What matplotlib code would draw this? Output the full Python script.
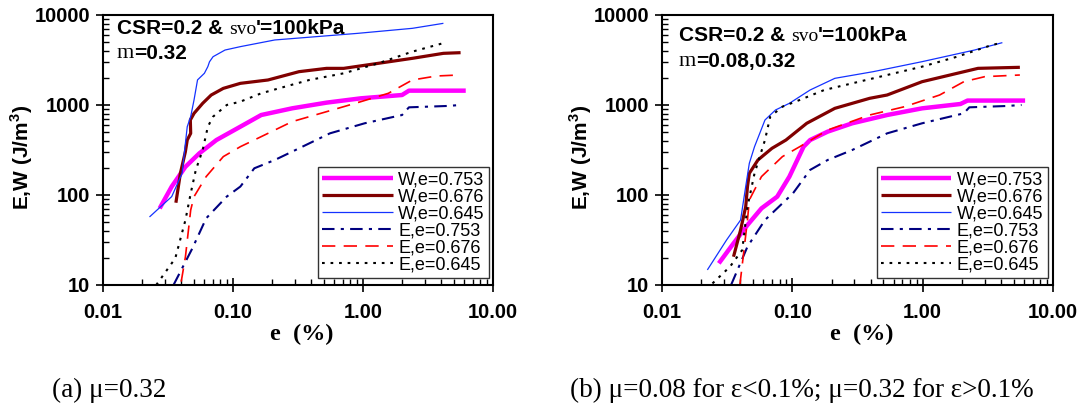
import matplotlib
matplotlib.use("Agg")
import matplotlib.pyplot as plt
from matplotlib.ticker import LogLocator, FixedLocator, FixedFormatter, NullFormatter

plt.rcParams['font.family'] = ['Liberation Sans', 'DejaVu Sans']
plt.rcParams['mathtext.fontset'] = 'custom'
plt.rcParams['mathtext.rm'] = 'Liberation Sans'
plt.rcParams['mathtext.bf'] = 'Liberation Sans:bold'

# --- панель (a): mu = 0.32 ---
a_w753_x = [0.0273, 0.0338, 0.0431, 0.0551, 0.0746, 0.114, 0.165, 0.285, 0.525, 0.964, 2.0, 2.26, 6.18]
a_w753_y = [71, 124, 206, 290, 408, 574, 774, 918, 1062, 1186, 1291, 1443, 1443]
a_w676_x = [0.0364, 0.0394, 0.0430, 0.0445, 0.0473, 0.0470, 0.0502, 0.0585, 0.068, 0.0843, 0.114, 0.186,
            0.322, 0.525, 0.711, 1.31, 2.4, 4.16, 5.64]
a_w676_y = [82, 174, 300, 408, 484, 681, 808, 1044, 1290, 1530, 1740, 1896, 2345, 2553, 2553, 2903, 3300,
            3750, 3814]
a_w645_x = [0.0228, 0.0338, 0.0406, 0.0445, 0.0473, 0.0502, 0.0534, 0.0603, 0.0641, 0.066, 0.0703, 0.0869,
            0.114, 0.21, 0.908, 2.4, 4.16]
a_w645_y = [57, 96, 174, 574, 742, 1140, 1900, 2250, 2670, 3020, 3440, 4080, 4450, 5280, 6250, 7110, 8080]
a_e753_x = [0.0349, 0.0487, 0.0622, 0.0896, 0.114, 0.146, 0.21, 0.303, 0.557, 1.03, 2.0, 2.26, 4.42, 5.64]
a_e753_y = [10, 25.5, 55, 96, 124, 198, 245, 316, 484, 626, 774, 942, 975, 1000]
a_e676_x = [0.040, 0.0431, 0.0473, 0.0502, 0.0622, 0.0843, 0.114, 0.165, 0.285, 0.525, 0.964, 1.57, 2.4,
            3.68, 5.47]
a_e676_y = [10.9, 20.6, 68, 96, 160, 267, 344, 445, 653, 843, 1089, 1349, 1896, 2100, 2154]
a_e645_x = [0.0257, 0.036, 0.0431, 0.0473, 0.0518, 0.0585, 0.0641, 0.0703, 0.0896, 0.114, 0.165, 0.252,
            0.387, 0.711, 1.31, 2.4, 4.29]
a_e645_y = [10, 19.8, 52.7, 104, 190, 316, 574, 742, 1000, 1089, 1349, 1600, 1897, 2249, 2903, 3915, 4930]

# --- панель (b): mu = 0.08 / 0.32 ---
b_w753_x = [0.0273, 0.0354, 0.0453, 0.058, 0.0766, 0.095, 0.122, 0.137, 0.187, 0.288, 0.534, 0.99, 1.95,
            2.21, 6.11]
b_w753_y = [17.4, 29, 46.4, 71, 95.8, 160, 344, 408, 506, 626, 774, 918, 1026, 1120, 1120]
b_w676_x = [0.0354, 0.0401, 0.0439, 0.0453, 0.0468, 0.0545, 0.0698, 0.0894, 0.129, 0.212, 0.392, 0.534,
            0.99, 1.84, 2.66, 5.57]
b_w676_y = [20.6, 40.8, 74, 124, 174, 245, 330, 408, 626, 918, 1186, 1291, 1815, 2249, 2554, 2622]
b_w645_x = [0.0223, 0.0313, 0.0401, 0.0439, 0.0468, 0.0513, 0.0617, 0.0743, 0.095, 0.137, 0.212, 0.417,
            0.99, 2.5, 4.09]
b_w645_y = [14.7, 31.6, 52.7, 124, 225, 344, 681, 880, 1044, 1468, 1978, 2345, 3030, 4080, 4930]
b_e753_x = [0.0339, 0.0453, 0.0617, 0.084, 0.101, 0.137, 0.187, 0.288, 0.534, 0.99, 2.07, 2.28, 4.42, 5.74]
b_e753_y = [10, 26.7, 52.7, 80.8, 104, 190, 245, 316, 484, 626, 808, 942, 975, 1000]
b_e676_x = [0.0396, 0.0426, 0.0453, 0.0468, 0.0513, 0.058, 0.084, 0.114, 0.187, 0.392, 0.728, 1.35, 2.07,
            3.0, 5.57]
b_e676_y = [10, 24.5, 52.7, 88, 114, 160, 267, 344, 527, 774, 958, 1291, 1815, 2065, 2154]
b_e645_x = [0.0244, 0.0333, 0.0413, 0.0453, 0.0513, 0.0617, 0.0677, 0.084, 0.114, 0.176, 0.288, 0.534,
            0.99, 1.84, 3.4, 4.09]
b_e645_y = [10.4, 16, 24.5, 74, 174, 408, 742, 958, 1137, 1468, 1740, 2154, 2666, 3443, 4642, 4930]

labels = ['W,e=0.753', 'W,e=0.676', 'W,e=0.645', 'E,e=0.753', 'E,e=0.676', 'E,e=0.645']
x_ticks = [0.01, 0.1, 1, 10]
x_tick_labels = ['0.01', '0.10', '1.00', '10.00']
y_ticks = [10, 100, 1000, 10000]
y_tick_labels = ['10', '100', '1000', '10000']

styles = [
    dict(color='#FF00FF', lw=3.2, ls='-'),
    dict(color='#800000', lw=2.3, ls='-'),
    dict(color='#1432FF', lw=0.9, ls='-'),
    dict(color='#000080', lw=1.5, ls=(0, (6, 3, 1.5, 3))),
    dict(color='#FF0000', lw=1.2, ls=(0, (8, 5))),
    dict(color='black', lw=1.5, ls=(0, (1.3, 2.8))),
]

fig = plt.figure(figsize=(10.85, 4.12), dpi=100)
ax_a = fig.add_axes([0.0949, 0.3083, 0.3594, 0.6553])
ax_b = fig.add_axes([0.6101, 0.3083, 0.3604, 0.6553])

panels = [
    (ax_a, [(a_w753_x, a_w753_y), (a_w676_x, a_w676_y), (a_w645_x, a_w645_y),
            (a_e753_x, a_e753_y), (a_e676_x, a_e676_y), (a_e645_x, a_e645_y)],
     'm', '=0.32', (0.036, 0.930), (0.036, 0.841), 0.99),
    (ax_b, [(b_w753_x, b_w753_y), (b_w676_x, b_w676_y), (b_w645_x, b_w645_y),
            (b_e753_x, b_e753_y), (b_e676_x, b_e676_y), (b_e645_x, b_e645_y)],
     'm', '=0.08,0.32', (0.043, 0.904), (0.043, 0.811), 0.987),
]

for ax, series, mchar, mtext, pos1, pos2, leg_x in panels:
    for (xs, ys), st, lab in zip(series, styles, labels):
        ax.plot(xs, ys, label=lab, solid_capstyle='butt', **st)
    ax.set_xscale('log')
    ax.set_yscale('log')
    ax.set_xlim(0.01, 10)
    ax.set_ylim(10, 10000)

    ax.xaxis.set_major_locator(FixedLocator(x_ticks))
    ax.xaxis.set_major_formatter(FixedFormatter(x_tick_labels))
    ax.yaxis.set_major_locator(FixedLocator(y_ticks))
    ax.yaxis.set_major_formatter(FixedFormatter(y_tick_labels))
    ax.xaxis.set_minor_locator(LogLocator(base=10, subs=range(2, 10)))
    ax.yaxis.set_minor_locator(LogLocator(base=10, subs=range(2, 10)))
    ax.xaxis.set_minor_formatter(NullFormatter())
    ax.yaxis.set_minor_formatter(NullFormatter())
    ax.tick_params(which='major', direction='inout', length=10, width=1.2)
    ax.tick_params(which='minor', direction='in', length=4, width=1.0)
    ax.tick_params(axis='x', which='major', pad=8)
    ax.tick_params(axis='y', which='major', pad=4)
    for lbl in ax.get_xticklabels() + ax.get_yticklabels():
        lbl.set_fontweight('bold')
        lbl.set_fontsize(14.5)
    for sp in ax.spines.values():
        sp.set_linewidth(1.5)

    ax.set_ylabel(r'E,W (J/m$^{\mathbf{3}}$)', fontsize=15, fontweight='bold')
    ax.yaxis.set_label_coords(-0.175, 0.474)
    ax.text(0.51, -0.185, 'e  (%)', transform=ax.transAxes, ha='center', va='center',
            fontsize=17.5, fontweight='bold', family=['Liberation Serif', 'DejaVu Serif'])

    # подпись CSR=0.2 & svo'=100kPa
    t1 = ax.text(pos1[0], pos1[1], 'CSR=0.2 & ', transform=ax.transAxes, fontsize=15,
                 fontweight='bold', va='baseline')
    t2 = ax.annotate('svo', xy=(1, 0), xycoords=t1, va='bottom', ha='left', fontsize=14,
                     family=['Liberation Serif', 'DejaVu Serif'])
    ax.annotate("'=100kPa", xy=(1, 0), xycoords=t2, va='bottom', ha='left', fontsize=15,
                fontweight='bold')
    t3 = ax.text(pos2[0], pos2[1], mchar, transform=ax.transAxes, fontsize=16,
                 family=['Liberation Serif', 'DejaVu Serif'], va='baseline')
    ax.annotate(mtext, xy=(1, 0), xycoords=t3, va='bottom', ha='left', fontsize=15,
                fontweight='bold')

    leg = ax.legend(loc='lower right', bbox_to_anchor=(leg_x, 0.026), fontsize=13,
                    handlelength=3.9, handletextpad=0.3, labelspacing=0.0, borderpad=0.25,
                    borderaxespad=0, fancybox=False, framealpha=1)
    leg.get_frame().set_edgecolor('#333333')
    leg.get_frame().set_linewidth(1.0)

fig.text(0.048, 0.053, '(a) \u03bc=0.32', fontsize=19.5, va='center',
         family=['Liberation Serif', 'DejaVu Serif'])
fig.text(0.525, 0.053, '(b) \u03bc=0.08 for \u03b5<0.1%; \u03bc=0.32 for \u03b5>0.1%', fontsize=19.5,
         va='center', family=['Liberation Serif', 'DejaVu Serif'])

fig.savefig('out.png', dpi=100)
